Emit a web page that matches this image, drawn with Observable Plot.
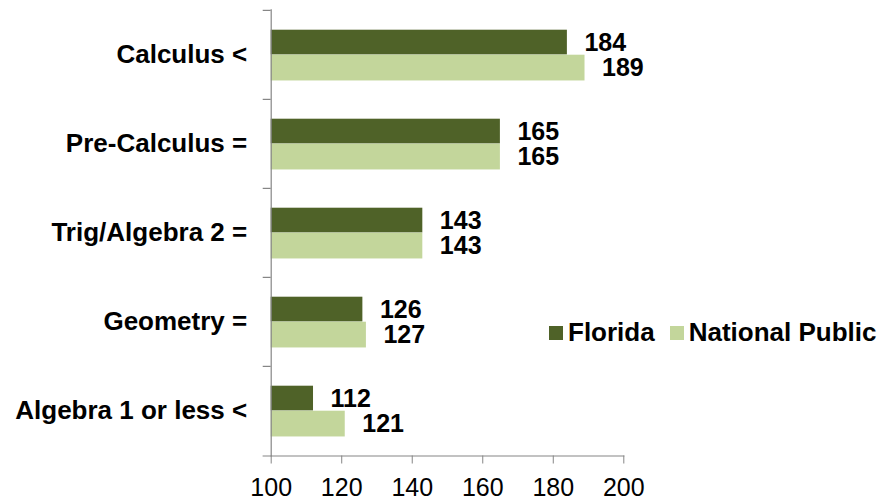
<!DOCTYPE html>
<html><head><meta charset="utf-8">
<script src="https://cdn.jsdelivr.net/npm/d3@7"></script>
<script src="https://cdn.jsdelivr.net/npm/@observablehq/plot@0.6"></script>
<style>
body{margin:0;background:#fff;font-family:Arial,"Liberation Sans",sans-serif;}
#wrap{position:relative;width:882px;height:500px;}
#legend{position:absolute;left:549px;top:317px;display:flex;align-items:center;font-size:26px;font-weight:bold;color:#000;white-space:nowrap;}
#legend .sw{display:inline-block;width:14px;height:14px;margin-right:5px;}
#legend .item{display:flex;align-items:center;margin-right:15px;}
</style></head><body><div id="wrap"></div>
<script>
const categories = ["Calculus <", "Pre-Calculus =", "Trig/Algebra 2 =", "Geometry =", "Algebra 1 or less <"];
const series = ["Florida", "National Public"];
const florida = [184, 165, 143, 126, 112];
const national = [189, 165, 143, 127, 121];
const xTicks = [100, 120, 140, 160, 180, 200];
const colors = ["#4f6228", "#c3d69b"];
const axisGray = "#868686";

const W = 882, H = 500;
const mTop = 9.3, mBottom = 44.5, mLeft = 270.7, mRight = 258.7;
const band = (H - mTop - mBottom) / categories.length;
const xMin = xTicks[0];

const fl = categories.map((c, i) => ({category: c, series: series[0], value: florida[i]}));
const na = categories.map((c, i) => ({category: c, series: series[1], value: national[i]}));

const font = "Arial, 'Liberation Sans', sans-serif";

const chart = Plot.plot({
  width: W, height: H,
  marginTop: mTop, marginBottom: mBottom, marginLeft: mLeft, marginRight: mRight,
  style: {fontFamily: font, background: "#fff", overflow: "visible"},
  x: {domain: [xTicks[0], xTicks[xTicks.length - 1]]},
  y: {domain: categories, padding: 0},
  marks: [
    Plot.barX(fl, {y: "category", x1: () => xMin, x2: "value", fill: colors[0], insetTop: 19.7, insetBottom: band - 44.7}),
    Plot.barX(na, {y: "category", x1: () => xMin, x2: "value", fill: colors[1], insetTop: 44.7, insetBottom: band - 70.7}),
    Plot.text(fl, {y: "category", x: "value", text: d => String(d.value), dx: 17, dy: -12.4, textAnchor: "start", lineAnchor: "middle", fontSize: 25, fontWeight: "bold", fill: "#000"}),
    Plot.text(na, {y: "category", x: "value", text: d => String(d.value), dx: 17, dy: 13, textAnchor: "start", lineAnchor: "middle", fontSize: 25, fontWeight: "bold", fill: "#000"}),
    Plot.ruleY(categories, {y: d => d, x1: () => xMin, x2: () => xMin, insetLeft: -8, dy: -band / 2, stroke: axisGray, strokeWidth: 1.2}),
    Plot.frame({anchor: "left", stroke: axisGray, strokeWidth: 1.2}),
    Plot.frame({anchor: "bottom", stroke: axisGray, strokeWidth: 1.2, insetLeft: -8}),
    Plot.axisY({tickSize: 0, tickPadding: 24, fontSize: 26, fontWeight: "bold", fill: "#000", label: null}),
    Plot.axisX({ticks: xTicks, tickSize: 8, tickPadding: 14, fontSize: 25, stroke: axisGray, fill: "#000", label: null, tickFormat: d => String(d)})
  ]
});

const wrap = document.getElementById("wrap");
wrap.appendChild(chart);
const legend = document.createElement("div");
legend.id = "legend";
series.forEach((s, i) => {
  const item = document.createElement("span");
  item.className = "item";
  const sw = document.createElement("span");
  sw.className = "sw";
  sw.style.background = colors[i];
  const t = document.createElement("span");
  t.textContent = s;
  item.appendChild(sw);
  item.appendChild(t);
  legend.appendChild(item);
});
wrap.appendChild(legend);
</script>
</body></html>
